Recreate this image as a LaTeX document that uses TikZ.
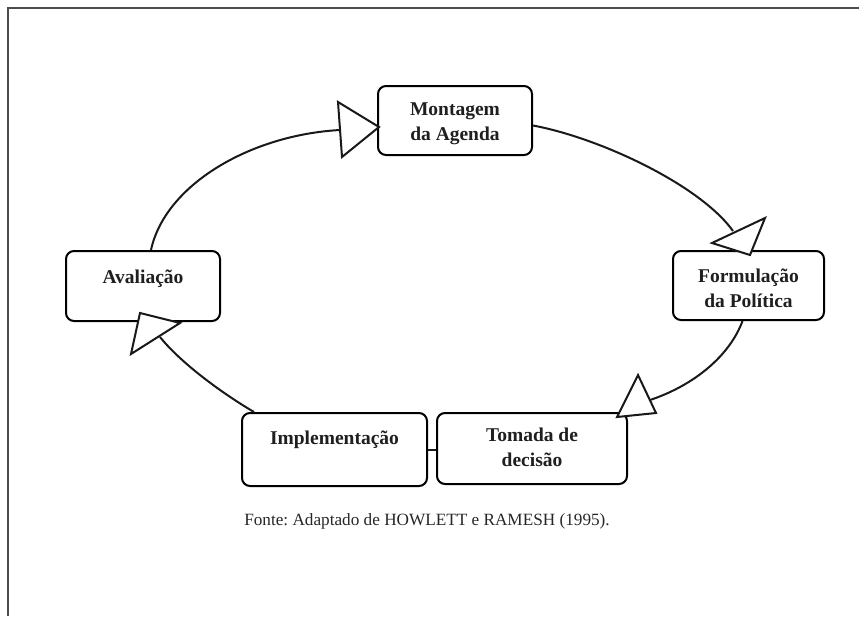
\documentclass[tikz,border=0pt]{standalone}
\usepackage{fontspec}
\setmainfont{Liberation Serif}
\frenchspacing
\begin{document}
\begin{tikzpicture}[x=1pt,y=-1pt,
  stage/.style={draw=black,line width=2pt,rounded corners=8pt,fill=white,inner sep=0pt},
  stagetext/.style={font=\fontsize{19.5}{25}\selectfont\bfseries,text=black!88,align=center,inner sep=0pt},
  flow/.style={draw=black!90,line width=2pt},
  head/.style={draw=black!90,line width=2pt,fill=white,line join=miter}]
\useasboundingbox (0,0) rectangle (859,616);
% page frame (top and left edges)
\draw[line width=2.4pt,draw=black!70] (8,616) -- (8,8) -- (859,8);

% stages of the cycle
\node[stage,minimum width=154pt,minimum height=69pt] (mont) at (455,120.5) {};
\node[stage,minimum width=151pt,minimum height=69pt] (form) at (748.5,285.5) {};
\node[stage,minimum width=154pt,minimum height=70pt] (aval) at (143,286) {};
\node[stage,minimum width=185pt,minimum height=73pt] (impl) at (334.5,449.5) {};
\node[stage,minimum width=190pt,minimum height=71pt] (toma) at (532,448.5) {};

\node[stagetext] (montT) at (455,124) {Montagem\\da Agenda};
\node[stagetext] (formT) at (748.5,288) {Formulação\\da Política};
\node[stagetext] (tomaT) at (532,447) {Tomada de\\decisão};
\node[stagetext,anchor=base] (avalT) at (143,283) {Avaliação};
\node[stagetext,anchor=base] (implT) at (334.5,444) {Implementação};

% arrowhead anchor points
\coordinate (h1) at (340,130);
\coordinate (h2) at (733,231);
\coordinate (h3) at (650,400);
\coordinate (h4) at (160,337);

% cycle connectors
\draw[flow] ([xshift=8pt]aval.north) .. controls (165,185) and (250,135) .. (h1);
\draw[flow] ([yshift=-5pt]mont.east) .. controls (600,138) and (700,185) .. (h2);
\draw[flow] ([xshift=-6pt]form.south) .. controls (730,355) and (695,385) .. (h3);
\draw[flow] ([xshift=13pt]impl.north west) .. controls (220,392) and (180,362) .. (h4);
\draw[flow] (impl.east) -- (impl.east -| toma.west);

% open triangular arrowheads
\draw[head] (338,102) -- (342,157) -- (379,127) -- cycle;
\draw[head] (712,243) -- (765,218) -- (750,255) -- cycle;
\draw[head] (617,417) -- (638,375) -- (656,413) -- cycle;
\draw[head] (140,313) -- (180,323) -- (131,354) -- cycle;

% source note
\node[font=\fontsize{17.2}{20}\selectfont,text=black!85,anchor=base,inner sep=0pt] (fonte) at (427,525) {Fonte: Adaptado de HOWLETT e RAMESH (1995).};
\end{tikzpicture}
\end{document}
